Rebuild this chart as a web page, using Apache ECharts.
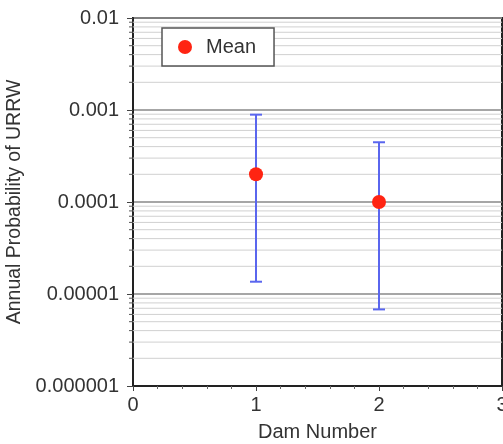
<!DOCTYPE html>
<html>
<head>
<meta charset="utf-8">
<script src="https://cdn.jsdelivr.net/npm/echarts@6/dist/echarts.min.js"></script>
<style>
  html, body { margin: 0; padding: 0; background: #fff; }
  #chart { width: 503px; height: 444px; }
</style>
</head>
<body>
<div id="chart"></div>
<script>
// dam numbers and annual probability of URRW
var dams = [1, 2];
var means = [0.0002, 0.0001];
var lower = [0.0000136, 0.0000068];
var upper = [0.00089, 0.000446];

// y axis decades and their labels
var yDecades = [0.000001, 0.00001, 0.0001, 0.001, 0.01];
var yTickLabels = ['0.000001', '0.00001', '0.0001', '0.001', '0.01'];
var minorSteps = [2, 3, 4, 5, 6, 7, 8, 9];

window.onload = function () {
    var chart = echarts.init(document.getElementById('chart'));
    var font = '"Liberation Sans", Arial, Helvetica, sans-serif';

    // minor gridline values 2..9 per decade
    var minorVals = [];
    for (var i = 0; i < yDecades.length - 1; i++) {
        for (var k = 0; k < minorSteps.length; k++) {
            minorVals.push(+(yDecades[i] * minorSteps[k]).toPrecision(3));
        }
    }

    var barData = [];
    for (var j = 0; j < dams.length; j++) {
        barData.push([dams[j], lower[j], upper[j]]);
    }

    var option = {
        animation: false,
        backgroundColor: '#fff',
        grid: {
            left: 133, right: 1, top: 18, bottom: 58,
            outerBoundsMode: 'none',
            containLabel: false,
            show: true,
            borderColor: '#222',
            borderWidth: 2,
            backgroundColor: 'transparent'
        },
        legend: {
            left: 162, top: 28,
            orient: 'vertical',
            data: [{ name: 'Mean', icon: 'circle' }],
            itemWidth: 14, itemHeight: 14,
            padding: [9, 18, 9, 16],
            borderColor: '#555',
            borderWidth: 1.5,
            backgroundColor: '#fff',
            textStyle: { fontFamily: font, fontSize: 20, color: '#333', padding: [0, 0, 0, 9] }
        },
        xAxis: {
            type: 'value',
            min: 0, max: 3, interval: 1,
            name: 'Dam Number',
            nameLocation: 'middle',
            nameGap: 36,
            nameTextStyle: { fontFamily: font, fontSize: 20, color: '#333' },
            axisLine: { lineStyle: { color: '#222', width: 2 } },
            axisTick: { show: true, length: 5, lineStyle: { color: '#444' } },
            minorTick: { show: true, splitNumber: 5, length: 3, lineStyle: { color: '#666' } },
            axisLabel: { fontFamily: font, fontSize: 20, color: '#333', margin: 9 },
            splitLine: { show: false }
        },
        yAxis: {
            type: 'log',
            logBase: 10,
            min: 0.000001, max: 0.01,
            name: 'Annual Probability of URRW',
            nameLocation: 'middle',
            nameGap: 101,
            nameTextStyle: { fontFamily: font, fontSize: 19.5, color: '#333' },
            axisLine: { lineStyle: { color: '#222', width: 2 } },
            axisTick: { show: true, length: 6, lineStyle: { color: '#444' } },
            axisLabel: {
                fontFamily: font, fontSize: 20, color: '#333', margin: 14,
                formatter: function (v) {
                    var idx = Math.round(Math.log10(v) + 6);
                    return yTickLabels[idx] !== undefined ? yTickLabels[idx] : '';
                }
            },
            splitLine: { show: true, lineStyle: { color: '#888', width: 1.5 } }
        },
        series: [{
            name: 'minorTicks',
            type: 'custom',
            clip: false,
            silent: true,
            z: 1,
            data: minorVals.map(function (v) { return [0, v]; }),
            encode: { x: 0, y: 1 },
            renderItem: function (params, api) {
                var p = api.coord([0, api.value(1)]);
                return {
                    type: 'group',
                    children: [{
                        type: 'line',
                        shape: { x1: p[0], y1: p[1], x2: params.coordSys.x + params.coordSys.width, y2: p[1] },
                        style: { stroke: '#d0d0d0', lineWidth: 1 }
                    }, {
                        type: 'line',
                        shape: { x1: p[0] - 4, y1: p[1], x2: p[0], y2: p[1] },
                        style: { stroke: '#555', lineWidth: 1 }
                    }]
                };
            }
        }, {
            name: 'range',
            type: 'custom',
            z: 3,
            data: barData,
            encode: { x: 0, y: [1, 2] },
            renderItem: function (params, api) {
                var x = api.value(0);
                var lo = api.coord([x, api.value(1)]);
                var hi = api.coord([x, api.value(2)]);
                var cap = 6;
                var st = { stroke: '#5a66ee', lineWidth: 2 };
                return {
                    type: 'group',
                    children: [
                        { type: 'line', shape: { x1: lo[0], y1: lo[1], x2: hi[0], y2: hi[1] }, style: st },
                        { type: 'line', shape: { x1: lo[0] - cap, y1: lo[1], x2: lo[0] + cap, y2: lo[1] }, style: st },
                        { type: 'line', shape: { x1: hi[0] - cap, y1: hi[1], x2: hi[0] + cap, y2: hi[1] }, style: st }
                    ]
                };
            }
        }, {
            name: 'Mean',
            type: 'scatter',
            z: 4,
            symbol: 'circle',
            symbolSize: 14,
            itemStyle: { color: '#ff2412', opacity: 1 },
            data: dams.map(function (d, i) { return [d, means[i]]; })
        }]
    };
    chart.setOption(option);
};
</script>
</body>
</html>
